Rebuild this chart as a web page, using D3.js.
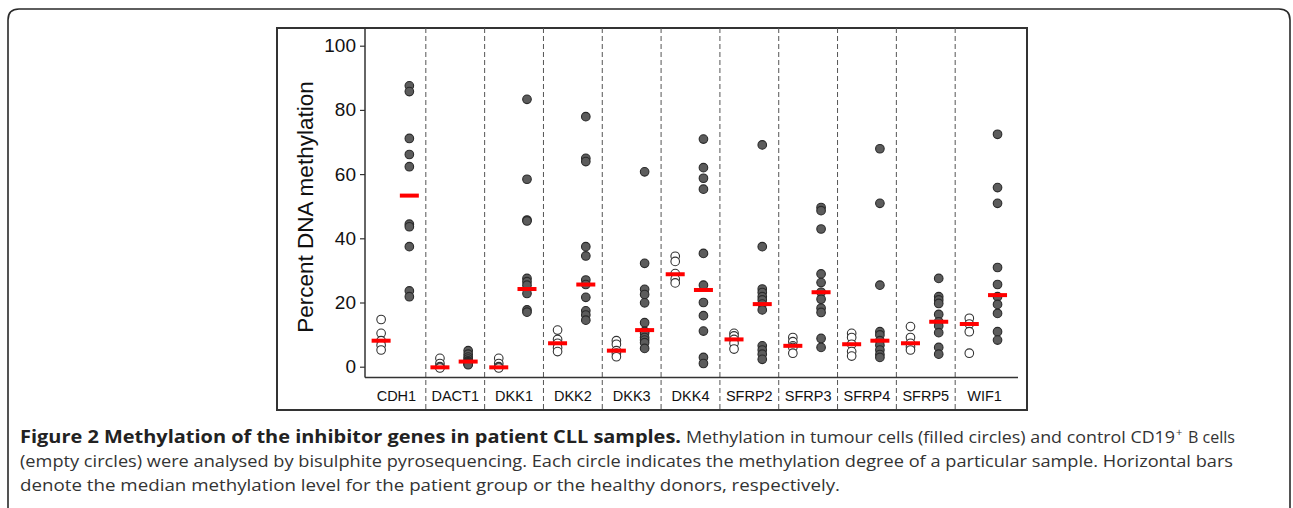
<!DOCTYPE html>
<html>
<head>
<meta charset="utf-8">
<script src="https://cdn.jsdelivr.net/npm/d3@7"></script>
<style>
  html, body { margin: 0; padding: 0; background: #fff; }
  svg { display: block; }
</style>
</head>
<body>
<svg id="chart" width="1293" height="508"></svg>
<script>
// ---------------- data ----------------
const categories = ["CDH1", "DACT1", "DKK1", "DKK2", "DKK3", "DKK4", "SFRP2", "SFRP3", "SFRP4", "SFRP5", "WIF1"];
const groups = ["control", "tumour"];
const yTicks = [0, 20, 40, 60, 80, 100];
const yLabel = "Percent DNA methylation";

// control CD19+ B cells (empty circles)
const controlValues = [
  [14.7, 10.4, 8.1, 6.7, 5.2],
  [2.6, 1.0, 0.0, -0.2, -0.4],
  [2.6, 1.0, 0.0, -0.2, -0.4],
  [11.4, 8.5, 7.3, 5.9, 4.7],
  [8.1, 7.0, 5.0, 4.2, 3.1],
  [34.4, 32.8, 29.0, 27.3, 26.1],
  [10.4, 9.6, 8.5, 7.3, 5.5],
  [9.1, 7.8, 6.5, 6.0, 4.2],
  [10.4, 9.1, 7.0, 4.7, 3.3],
  [12.5, 9.1, 7.3, 6.2, 5.2],
  [15.1, 13.3, 10.9, 4.2]
];
// tumour cells (filled circles)
const tumourValues = [
  [87.5, 85.7, 71.1, 66.1, 62.3, 44.4, 43.6, 37.4, 23.6, 21.8],
  [5.0, 3.9, 3.0, 2.4, 1.8, 1.5, 1.2, 1.0, 0.8, 0.6],
  [83.3, 58.4, 45.7, 45.4, 27.5, 26.5, 25.4, 22.8, 17.7, 17.0],
  [77.9, 64.9, 63.9, 37.4, 34.5, 27.0, 25.6, 21.6, 17.4, 16.1, 14.5],
  [60.7, 32.2, 24.1, 22.5, 19.9, 13.7, 11.0, 10.4, 9.1, 8.3, 7.5, 5.7],
  [70.9, 62.0, 58.7, 55.3, 35.3, 25.4, 20.0, 15.9, 11.1, 2.9, 1.0],
  [69.1, 37.4, 24.2, 23.1, 21.8, 20.8, 19.5, 17.7, 6.5, 5.2, 3.9, 2.3],
  [49.6, 48.6, 42.9, 28.9, 26.2, 23.2, 21.0, 18.2, 16.9, 8.8, 6.0],
  [67.9, 50.9, 25.4, 10.9, 9.9, 8.1, 6.7, 5.2, 3.8, 2.9],
  [27.5, 21.8, 20.8, 19.7, 16.3, 14.0, 12.7, 10.6, 6.0, 3.9],
  [72.4, 55.8, 50.9, 30.9, 25.6, 21.8, 19.4, 16.6, 10.9, 8.3]
];
const controlMedians = [8.1, -0.2, -0.2, 7.3, 5.0, 28.8, 8.5, 6.5, 7.0, 7.3, 13.3];
const tumourMedians = [53.3, 1.6, 24.2, 25.6, 11.4, 23.9, 19.5, 23.2, 8.1, 14.0, 22.3];

const captionBold = "Figure 2 Methylation of the inhibitor genes in patient CLL samples.";
const captionLine1 = "Methylation in tumour cells (filled circles) and control CD19";
const captionSup = "+";
const captionLine1b = "B cells";
const captionLine2 = "(empty circles) were analysed by bisulphite pyrosequencing. Each circle indicates the methylation degree of a particular sample. Horizontal bars";
const captionLine3 = "denote the median methylation level for the patient group or the healthy donors, respectively.";

// ---------------- layout ----------------
const svg = d3.select("#chart");
const frame = { left: 277, top: 28, right: 1027, bottom: 410 };
const axisLeft = 365, axisBottom = 377.5, axisRightEnd = 1018;

const x = d3.scaleBand().domain(categories).range([367, 1014]).paddingInner(0).paddingOuter(0);
const xs = d3.scalePoint().domain(groups).range([0.24, 0.72]);
const y = d3.scaleLinear().domain([0, 100]).range([366.7, 45.7]);

// page border (rounded top corners)
const r = 11;
svg.append("path")
  .attr("d", `M8,508 L8,${9 + r} Q8,9 ${8 + r},9 L${1290 - r},9 Q1290,9 1290,${9 + r} L1290,508`)
  .attr("fill", "none").attr("stroke", "#2a2a2a").attr("stroke-width", 1.6);

// chart frame
svg.append("rect")
  .attr("x", frame.left).attr("y", frame.top)
  .attr("width", frame.right - frame.left).attr("height", frame.bottom - frame.top)
  .attr("fill", "none").attr("stroke", "#333").attr("stroke-width", 2);

// dashed separators
svg.append("g").selectAll("line")
  .data(categories.slice(1))
  .join("line")
  .attr("x1", d => x(d)).attr("x2", d => x(d))
  .attr("y1", frame.top).attr("y2", frame.bottom)
  .attr("stroke", "#555").attr("stroke-width", 1).attr("stroke-dasharray", "5,3");

// y axis
const yAxis = d3.axisLeft(y).tickValues(yTicks).tickSize(5).tickPadding(4);
const gy = svg.append("g").attr("transform", `translate(${axisLeft},0)`).call(yAxis);
gy.select(".domain").remove();
gy.selectAll(".tick line").attr("stroke", "#333").attr("stroke-width", 1.2);
gy.selectAll(".tick text")
  .attr("font-family", "Liberation Sans, Arial, sans-serif")
  .attr("font-size", 19).attr("fill", "#111");

svg.append("line")
  .attr("x1", axisLeft).attr("x2", axisLeft)
  .attr("y1", frame.top).attr("y2", axisBottom)
  .attr("stroke", "#333").attr("stroke-width", 1.5);
svg.append("line")
  .attr("x1", axisLeft).attr("x2", axisRightEnd)
  .attr("y1", axisBottom).attr("y2", axisBottom)
  .attr("stroke", "#333").attr("stroke-width", 1.5);

// y label
svg.append("text")
  .attr("transform", `translate(313,207) rotate(-90)`)
  .attr("text-anchor", "middle")
  .attr("font-family", "Liberation Sans, Arial, sans-serif")
  .attr("font-size", 22.5).attr("fill", "#111")
  .text(yLabel);

// x axis category labels
const xAxis = d3.axisBottom(x).tickSize(0).tickPadding(0);
const gx = svg.append("g").attr("transform", `translate(0,${axisBottom})`).call(xAxis);
gx.select(".domain").remove();
gx.selectAll(".tick text")
  .attr("dy", null).attr("y", 23)
  .attr("font-family", "Liberation Sans, Arial, sans-serif")
  .attr("font-size", 14.5).attr("fill", "#111");

// points
const pts = [];
categories.forEach((c, i) => {
  controlValues[i].forEach(v => pts.push({ c, g: "control", v }));
  tumourValues[i].forEach(v => pts.push({ c, g: "tumour", v }));
});
const px = d => x(d.c) + x.bandwidth() * xs(d.g);

svg.append("g").selectAll("circle")
  .data(pts)
  .join("circle")
  .attr("cx", px)
  .attr("cy", d => y(d.v))
  .attr("r", 4.3)
  .attr("fill", d => d.g === "tumour" ? "#5c5c5c" : "#fff")
  .attr("stroke", d => d.g === "tumour" ? "#2a2a2a" : "#333")
  .attr("stroke-width", 1.1);

// median bars
const meds = [];
categories.forEach((c, i) => {
  meds.push({ c, g: "control", v: controlMedians[i] });
  meds.push({ c, g: "tumour", v: tumourMedians[i] });
});
svg.append("g").selectAll("rect")
  .data(meds)
  .join("rect")
  .attr("x", d => px(d) - 9.5)
  .attr("y", d => y(d.v) - 2)
  .attr("width", 19).attr("height", 4)
  .attr("fill", "#ff0000");

// caption
const cap = svg.append("g")
  .attr("font-family", "Open Sans, sans-serif")
  .attr("font-size", 17).attr("fill", "#333");
cap.append("text").attr("x", 20).attr("y", 443)
  .attr("font-weight", "bold").attr("fill", "#222")
  .attr("textLength", 661).attr("lengthAdjust", "spacingAndGlyphs")
  .text(captionBold);
cap.append("text").attr("x", 686).attr("y", 443)
  .attr("textLength", 489).attr("lengthAdjust", "spacingAndGlyphs")
  .text(captionLine1);
cap.append("text").attr("x", 1176).attr("y", 436)
  .attr("font-size", 11).text(captionSup);
cap.append("text").attr("x", 1188).attr("y", 443)
  .attr("textLength", 47).attr("lengthAdjust", "spacingAndGlyphs")
  .text(captionLine1b);
cap.append("text").attr("x", 20).attr("y", 467)
  .attr("textLength", 1213).attr("lengthAdjust", "spacingAndGlyphs")
  .text(captionLine2);
cap.append("text").attr("x", 20).attr("y", 491)
  .attr("textLength", 820).attr("lengthAdjust", "spacingAndGlyphs")
  .text(captionLine3);
</script>
</body>
</html>
